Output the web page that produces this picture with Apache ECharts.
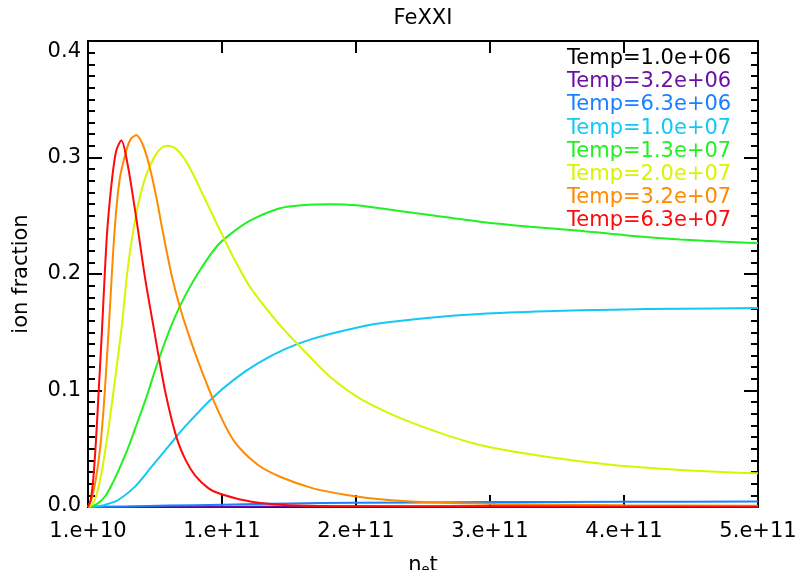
<!DOCTYPE html>
<html><head><meta charset="utf-8">
<script src="https://cdn.jsdelivr.net/npm/echarts@6/dist/echarts.min.js"></script>
<style>html,body{margin:0;padding:0;background:#fff}#c{width:803px;height:570px}</style>
</head><body><div id="c"></div>
<script>
// ---- data (x in units of 1e10) ----
const chartTitle = 'FeXXI';
const xTickLabels = ['1.e+10', '1.e+11', '2.e+11', '3.e+11', '4.e+11', '5.e+11'];
const seriesNames = ['Temp=1.0e+06', 'Temp=3.2e+06', 'Temp=6.3e+06', 'Temp=1.0e+07',
                     'Temp=1.3e+07', 'Temp=2.0e+07', 'Temp=3.2e+07', 'Temp=6.3e+07'];
const seriesColors = ['#000000', '#6a0fa8', '#1a80ff', '#14c8f5', '#22f022', '#d8f500', '#ff8a00', '#ff0a0a'];

const temp1e6 = [[0,0],[50,0]];
const temp3e6 = [[0,0],[5,0.0002],[15,0.0004],[30,0.0006],[50,0.0008]];
const temp6e6 = [[0,0],[3,0.0005],[6,0.0012],[10,0.002],[15,0.003],[20,0.0036],[30,0.0042],[40,0.0045],[50,0.0047]];
const temp1e7 = [[0,0],[1,0.001],[1.6,0.003],[2.26,0.006],[3.51,0.0175],[4.75,0.0346],[6.0,0.052],[7.24,0.069],
  [9.23,0.093],[10.97,0.110],[12.7,0.1235],[14.7,0.1355],[16.8,0.1445],[19.3,0.152],[21.8,0.1577],[25.5,0.1625],
  [29.25,0.1657],[34.2,0.168],[39.2,0.1694],[44.2,0.1702],[50,0.1708]];
const temp13e7 = [[0,0],[0.6,0.002],[1.27,0.009],[1.9,0.022],[2.51,0.0375],[3.0,0.051],[3.51,0.067],[4.38,0.095],
  [5.2,0.124],[6.09,0.152],[6.97,0.175],[8.21,0.2006],[9.7,0.2249],[11,0.2375],[12.2,0.2465],[14.33,0.2564],[16,0.259],
  [18.06,0.2598],[20,0.259],[21.8,0.2564],[25.5,0.2506],[29.25,0.2449],[33,0.2406],[36.7,0.2372],[40.45,0.2329],
  [44.2,0.2297],[50,0.2263]];
const temp2e7 = [[0,0],[0.3,0.002],[0.6,0.009],[1.02,0.03],[1.5,0.065],[2.0,0.108],[2.49,0.152],[2.99,0.207],
  [3.61,0.252],[4.23,0.281],[4.98,0.301],[5.45,0.308],[5.92,0.310],[6.6,0.307],[7.46,0.294],[8.58,0.268],[9.7,0.241],
  [11,0.211],[12.2,0.187],[14.33,0.156],[15.8,0.138],[18.06,0.1118],[20.5,0.0918],[24.3,0.0718],
  [29.25,0.0532],[34.2,0.0432],[39.2,0.036],[44.2,0.0318],[50,0.0289]];
const temp32e7 = [[0,0],[0.3,0.008],[0.6,0.025],[0.9,0.05],[1.2,0.09],[1.54,0.152],[1.99,0.238],[2.36,0.281],
  [2.86,0.306],[3.2,0.316],[3.61,0.319],[4.05,0.312],[4.53,0.295],[5.1,0.266],[5.52,0.240],[6.22,0.200],[6.8,0.174],
  [7.39,0.152],[8.48,0.117],[9.73,0.082],[10.97,0.0555],[12.7,0.036],[14.33,0.026],[16.8,0.016],[19.3,0.0103],
  [21.8,0.0066],[25.5,0.004],[30.5,0.0026],[40,0.0015],[50,0.001]];
const temp63e7 = [[0,0],[0.2,0.006],[0.4,0.025],[0.6,0.058],[0.8,0.1],[1.045,0.152],[1.25,0.2],[1.44,0.238],
  [1.79,0.281],[2.11,0.306],[2.49,0.3145],[2.94,0.295],[3.36,0.266],[3.73,0.238],[4.28,0.195],[4.93,0.152],
  [5.2,0.134],[5.8,0.097],[6.6,0.06],[7.3,0.04],[8.0,0.027],[9.0,0.016],[9.7,0.012],[11,0.0075],[12.2,0.0046],
  [14.7,0.0017],[18,0.0008],[25,0.0005],[50,0.0003]];
const seriesData = [temp1e6, temp3e6, temp6e6, temp1e7, temp13e7, temp2e7, temp32e7, temp63e7];

// ---- chart ----
const FONT = 'DejaVu Sans';
const FS = 21;
const chart = echarts.init(document.getElementById('c'), null, {renderer: 'canvas'});
const axisLine = {show: true, onZero: false, lineStyle: {color: '#000', width: 2}};
chart.setOption({
  animation: false,
  backgroundColor: '#fff',
  title: {text: chartTitle, left: 423, top: 8, textAlign: 'center', padding: 0,
    textStyle: {fontFamily: FONT, fontSize: FS, fontWeight: 'normal', color: '#000', lineHeight: 22}},
  legend: {orient: 'vertical', left: 562, top: 47, icon: 'none', itemWidth: 0, itemHeight: 0, itemGap: 0,
    selectedMode: false, padding: 0,
    textStyle: {fontFamily: FONT, fontSize: FS, lineHeight: 23.2},
    data: seriesNames.map((n, i) => ({name: n, textStyle: {color: seriesColors[i]}}))},
  grid: {left: 88, right: 45, top: 41, bottom: 63, containLabel: false, outerBoundsMode: 'none'},
  xAxis: [
    {type: 'value', min: 0, max: 50, interval: 10, position: 'bottom',
     axisLine, axisTick: {inside: true, length: 12, lineStyle: {color: '#000', width: 2}},
     splitLine: {show: false},
     axisLabel: {margin: 14, color: '#000', fontFamily: FONT, fontSize: FS,
       formatter: (v) => xTickLabels[Math.round(v / 10)]},
     name: 'n{sub|e}t', nameLocation: 'middle', nameGap: 48,
     nameTextStyle: {color: '#000', fontFamily: FONT, fontSize: FS,
       rich: {sub: {fontFamily: FONT, fontSize: 13, verticalAlign: 'bottom', padding: [8, 0, 0, 0]}}}},
    {type: 'value', min: 0, max: 50, interval: 10, position: 'top',
     axisLine, axisTick: {inside: true, length: 12, lineStyle: {color: '#000', width: 2}},
     splitLine: {show: false}, axisLabel: {show: false}}
  ],
  yAxis: [
    {type: 'value', min: 0, max: 0.4, interval: 0.1, position: 'left',
     axisLine, axisTick: {inside: true, length: 14, lineStyle: {color: '#000', width: 2}},
     minorTick: {show: true, splitNumber: 10, length: 7, lineStyle: {color: '#000', width: 2}},
     splitLine: {show: false}, minorSplitLine: {show: false},
     axisLabel: {margin: 7, color: '#000', fontFamily: FONT, fontSize: FS,
       formatter: (v) => {
         const s = v.toFixed(1);
         if (v <= 0.0001) return '{lo|' + s + '}';
         if (v >= 0.3999) return '{hi|' + s + '}';
         return s;
       },
       rich: {lo: {fontFamily: FONT, fontSize: FS, padding: [0, 0, 3, 0]},
              hi: {fontFamily: FONT, fontSize: FS, padding: [22, 0, 0, 0]}}},
     name: 'ion fraction', nameLocation: 'middle', nameGap: 56,
     nameTextStyle: {color: '#000', fontFamily: FONT, fontSize: FS}},
    {type: 'value', min: 0, max: 0.4, interval: 0.1, position: 'right',
     axisLine, axisTick: {inside: true, length: 14, lineStyle: {color: '#000', width: 2}},
     minorTick: {show: true, splitNumber: 10, length: 7, lineStyle: {color: '#000', width: 2}},
     splitLine: {show: false}, axisLabel: {show: false}}
  ],
  series: seriesNames.map((n, i) => ({
    name: n, type: 'line', data: seriesData[i], xAxisIndex: 0, yAxisIndex: 0,
    showSymbol: false, symbol: 'none', smooth: 0.3, smoothConstraint: false, z: 2 + i,
    lineStyle: {color: seriesColors[i], width: 2}, itemStyle: {color: seriesColors[i]}
  }))
});
</script></body></html>
